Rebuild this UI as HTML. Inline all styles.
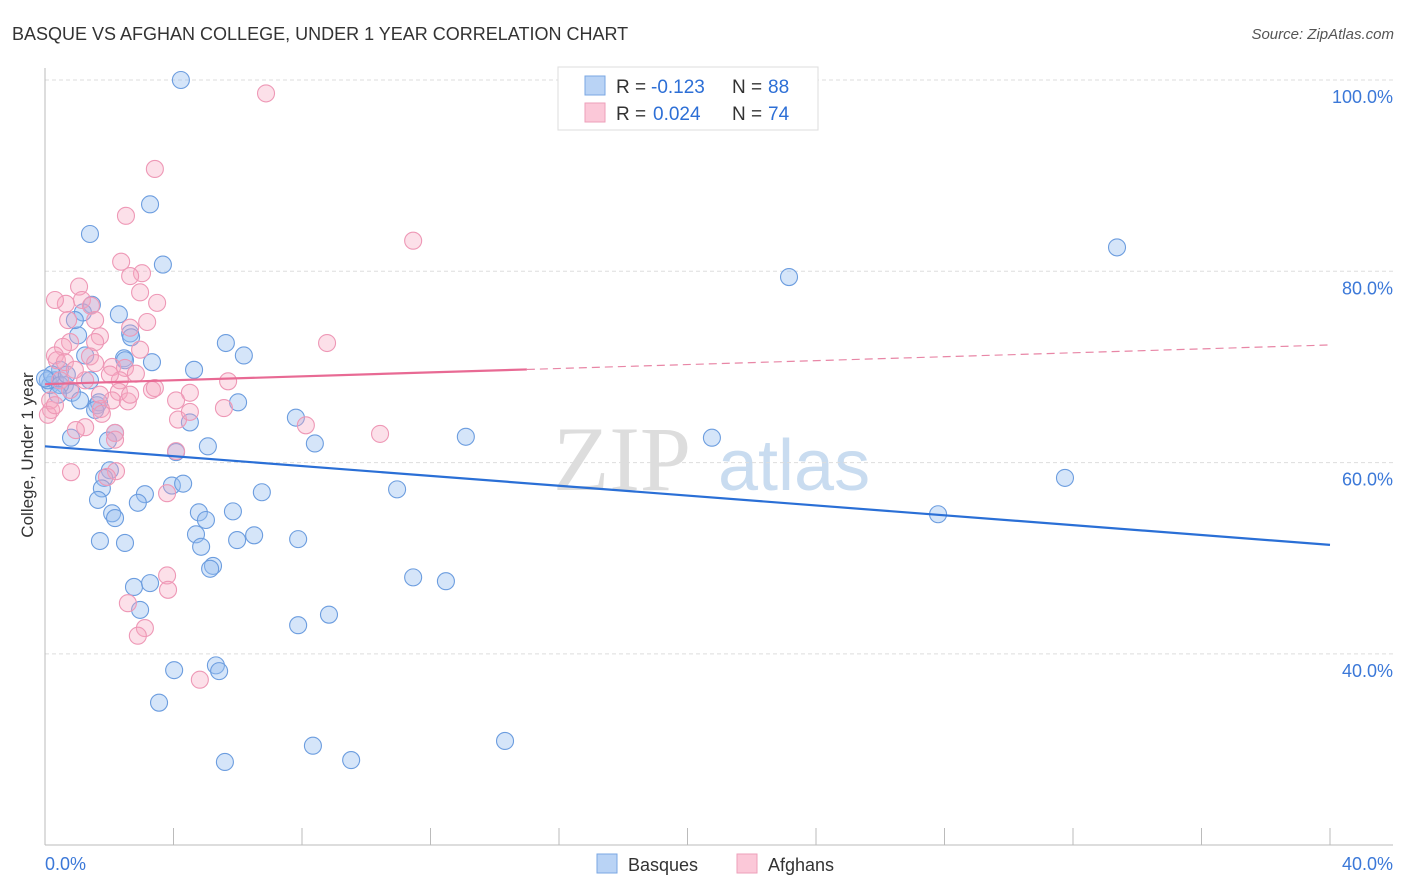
<!DOCTYPE html>
<html><head><meta charset="utf-8"><style>
body{margin:0;background:#fff;font-family:"Liberation Sans",sans-serif}
svg{display:block}
</style></head><body>
<svg width="1406" height="892" xmlns="http://www.w3.org/2000/svg" id="chart">
<text x="12" y="40" font-size="18" fill="#333">BASQUE VS AFGHAN COLLEGE, UNDER 1 YEAR CORRELATION CHART</text>
<text x="1394" y="39" font-size="15" fill="#555" font-style="italic" text-anchor="end">Source: ZipAtlas.com</text>
<g>
<text x="553" y="490" font-family="Liberation Serif,serif" font-size="92" fill="#ddd">ZIP</text>
<text x="718" y="490" font-size="72" fill="#c9dcf0">atlas</text>
</g>
<g id="grid"></g>
<g id="axes"></g>
<g id="pts"></g>
<g id="trends"></g>
<text x="33" y="455" font-size="17" fill="#333" transform="rotate(-90 33 455)" text-anchor="middle">College, Under 1 year</text>
<g>
<rect x="558" y="67" width="260" height="63" fill="#fff" stroke="#ddd"/>
<rect x="585" y="76" width="20" height="19" fill="#b9d3f5" stroke="#7aa7e3"/>
<rect x="585" y="103" width="20" height="19" fill="#fbc8d8" stroke="#ee9fba"/>
<text x="616" y="93" font-size="19" fill="#333">R =</text>
<text x="651" y="93" font-size="19" fill="#2d6fd6">-0.123</text>
<text x="732" y="93" font-size="19" fill="#333">N =</text>
<text x="768" y="93" font-size="19" fill="#2d6fd6">88</text>
<text x="616" y="120" font-size="19" fill="#333">R =</text>
<text x="653" y="120" font-size="19" fill="#2d6fd6">0.024</text>
<text x="732" y="120" font-size="19" fill="#333">N =</text>
<text x="768" y="120" font-size="19" fill="#2d6fd6">74</text>
</g>
<g>
<rect x="597" y="854" width="20" height="19" fill="#b9d3f5" stroke="#7aa7e3"/>
<text x="628" y="871" font-size="18" fill="#333">Basques</text>
<rect x="737" y="854" width="20" height="19" fill="#fbc8d8" stroke="#ee9fba"/>
<text x="768" y="871" font-size="18" fill="#333">Afghans</text>
</g>
</svg>
<script>
const blueX=[4.23,3.27,1.40,3.67,2.30,1.46,1.18,2.65,2.68,2.46,3.33,5.63,6.19,4.64,1.03,1.25,0.47,0.31,0.62,0.16,0.84,1.09,1.62,1.68,6.01,7.81,4.51,5.07,8.40,13.1,20.76,0.81,2.18,1.96,4.08,2.02,1.84,1.77,1.65,3.11,2.89,3.95,4.30,6.75,10.96,2.09,2.18,4.79,5.01,5.85,4.70,5.98,6.51,4.86,1.71,2.49,7.88,5.23,5.14,2.77,3.27,11.46,12.48,2.96,8.84,7.88,4.02,5.32,5.42,3.55,8.34,14.32,5.60,9.53,23.16,33.37,31.75,27.80,0.09,0.22,0,0.47,0.68,0.40,1.40,0.93,2.49,1.56];
const blueY=[100,87.0,83.9,80.7,75.5,76.5,75.7,73.5,73.1,70.9,70.5,72.5,71.2,69.7,73.3,71.2,69.7,68.6,68.1,68.1,67.3,66.5,66.0,66.3,66.3,64.7,64.2,61.7,62.0,62.7,62.6,62.6,63.1,62.3,61.1,59.2,58.4,57.3,56.1,56.7,55.8,57.6,57.8,56.9,57.2,54.7,54.2,54.8,54.0,54.9,52.5,51.9,52.4,51.2,51.8,51.6,52.0,49.2,48.9,47.0,47.4,48.0,47.6,44.6,44.1,43.0,38.3,38.8,38.2,34.9,30.4,30.9,28.7,28.9,79.4,82.5,58.4,54.6,68.6,69.2,68.8,68.1,69.2,67.1,68.6,74.9,70.7,65.5];
const pinkX=[6.88,3.42,2.52,11.46,2.37,3.02,2.65,2.96,1.06,3.49,0.65,1.15,1.43,3.18,2.65,1.71,8.78,1.56,0.78,0.56,0.31,1.40,0.37,0.62,1.56,2.09,2.49,2.83,2.33,3.33,4.51,5.70,3.42,4.08,2.30,2.09,2.58,1.74,1.77,5.57,8.12,4.14,1.25,0.96,2.18,2.18,10.43,4.08,2.21,0.81,1.93,3.80,3.80,3.83,2.58,3.11,2.89,4.82,0.19,0.16,0.09,0.47,0.78,0.31,1.71,2.02,1.25,0.93,4.51,2.65,0.31,1.56,2.96,0.72];
const pinkY=[98.6,90.7,85.8,83.2,81.0,79.8,79.5,77.8,78.4,76.7,76.6,77.0,76.4,74.7,74.1,73.2,72.5,72.6,72.6,72.1,71.2,71.1,70.7,70.5,70.4,70.0,69.9,69.3,68.6,67.6,67.3,68.5,67.8,66.5,67.4,66.5,66.4,65.6,65.1,65.7,63.9,64.5,63.7,63.4,63.1,62.4,63.0,61.2,59.1,59.0,58.5,56.8,48.2,46.7,45.3,42.7,41.9,37.3,65.5,66.5,65.0,68.6,67.6,66.0,67.1,69.2,68.6,69.7,65.3,67.1,77.0,74.9,71.8,74.9];
const yTicks=[40,60,80,100];
const xTickLabels=["0.0%","40.0%"];
const blueTrend=[61.7,51.4];
const pinkTrend=[68.2,72.3];
const pinkSolidEnd=15;
const NS="http://www.w3.org/2000/svg";
const xs=v=>45+v*32.125, ys=v=>80+(100-v)*9.565;
function mk(t,a,p){const e=document.createElementNS(NS,t);for(const k in a)e.setAttribute(k,a[k]);p.appendChild(e);return e;}
const grid=document.getElementById('grid'),axes=document.getElementById('axes'),pts=document.getElementById('pts'),tr=document.getElementById('trends');
yTicks.forEach(t=>{
 const l=mk('line',{x1:45,x2:1393,y1:ys(t),y2:ys(t),stroke:'#ddd','stroke-dasharray':'4,3'},grid);
 
 
 const tx=mk('text',{x:1393,y:ys(t)+23,'font-size':18,fill:'#3b78d8','text-anchor':'end'},axes);
 tx.textContent=t.toFixed(1)+'%';
 
 
});
mk('line',{x1:45,x2:45,y1:68,y2:845,stroke:'#bbb'},axes);
mk('line',{x1:45,x2:1393,y1:845,y2:845,stroke:'#bbb'},axes);
for(let i=0;i<=10;i++){const x=xs(i*4);const t=mk('line',{x1:x,x2:x,y1:828,y2:845,stroke:'#bbb'},axes);
 
 }
const xl0=mk('text',{x:45,y:870,'font-size':18,fill:'#3b78d8'},axes);xl0.textContent=xTickLabels[0];


const xl1=mk('text',{x:1393,y:870,'font-size':18,fill:'#3b78d8','text-anchor':'end'},axes);xl1.textContent=xTickLabels[1];


blueX.forEach((x,i)=>{const c=mk('circle',{cx:xs(x),cy:ys(blueY[i]),r:8.5,fill:'rgba(150,190,240,0.4)',stroke:'#6c9ddf','stroke-width':1.1},pts);
 
 });
pinkX.forEach((x,i)=>{const c=mk('circle',{cx:xs(x),cy:ys(pinkY[i]),r:8.5,fill:'rgba(245,165,192,0.35)',stroke:'#ee98b6','stroke-width':1.1},pts);
 
 });
const bl=mk('line',{x1:xs(0),y1:ys(blueTrend[0]),x2:xs(40),y2:ys(blueTrend[1]),stroke:'#2a6fd6','stroke-width':2.2},tr);


const pm=pinkTrend[0]+(pinkTrend[1]-pinkTrend[0])*pinkSolidEnd/40;
const pl=mk('line',{x1:xs(0),y1:ys(pinkTrend[0]),x2:xs(pinkSolidEnd),y2:ys(pm),stroke:'#e86a94','stroke-width':2.2},tr);


const pd=mk('line',{x1:xs(pinkSolidEnd),y1:ys(pm),x2:xs(40),y2:ys(pinkTrend[1]),stroke:'#e886a6','stroke-width':1.2,'stroke-dasharray':'8,5'},tr);


</script>
</body></html>
